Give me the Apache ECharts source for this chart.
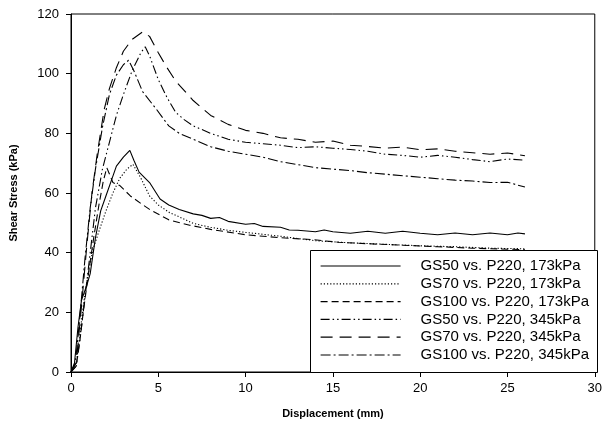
<!DOCTYPE html>
<html>
<head>
<meta charset="utf-8">
<script src="https://cdn.jsdelivr.net/npm/echarts@6/dist/echarts.min.js"></script>
<style>
	html, body { margin: 0; padding: 0; background: #fff; }
	#main { width: 605px; height: 430px; }
</style>
</head>
<body>
<div id="main"></div>
<script>
// series names (legend order)
var seriesNames = [
	'GS50 vs. P220, 173kPa',
	'GS70 vs. P220, 173kPa',
	'GS100 vs. P220, 173kPa',
	'GS50 vs. P220, 345kPa',
	'GS70 vs. P220, 345kPa',
	'GS100 vs. P220, 345kPa'
];

// [displacement mm, shear stress kPa]
var gs50_173 = [[0,0],[0.2,3],[0.4,15],[0.6,24],[0.9,29],[1.1,33],[1.4,45],[1.7,54],[2,59],[2.3,64],[2.6,69],[3,72],[3.37,74.3],
	[3.6,71],[3.9,67],[4.5,63.5],[5.1,58],[5.6,56],[6.2,54.5],[7,53],[7.5,52.5],[8,51.5],[8.5,51.8],[9,50.5],[10,49.5],[10.5,49.8],
	[11,48.8],[12,48.5],[12.5,47.6],[13,47.5],[14,47],[14.5,47.6],[15,47],[16,46.5],[17,47.2],[18,46.5],[19,47.2],[20,46.5],
	[21,46],[22,46.6],[23,46],[24,46.6],[25,46],[25.6,46.6],[26,46.3]];
var gs70_173 = [[0,0],[0.3,3],[0.5,12],[0.7,22],[0.9,30],[1.25,41],[1.65,48],[2,54],[2.4,60],[2.8,65],[3.2,68],[3.55,69.6],
	[4,65],[4.5,59],[5,56],[5.65,53.4],[6.2,52],[7,49.8],[8,48.5],[9,47.5],[10,46.8],[12,45.5],[14,44],[16,43.3],[18,42.8],
	[20,42.3],[22,42],[24,41.5],[26,41.3]];
var gs100_173 = [[0,0],[0.3,2],[0.5,10],[0.7,20],[1,33],[1.3,45],[1.6,56],[1.85,64],[2.05,68.5],[2.4,63.5],[2.8,62.5],
	[3.4,59],[4,56.5],[4.5,54.5],[5.6,51],[6.8,49.2],[8,47.8],[10,46],[12,45],[13.8,44.4],[15.3,43.5],[17,43],[19,42.5],
	[21,42],[23,41.5],[26,41]];
var gs50_345 = [[0,0],[0.3,2],[0.6,15],[1,35],[1.4,55],[1.8,68],[2.2,77],[2.6,86],[3,93],[3.5,101],[4,107],[4.25,109],
	[4.5,106],[5,98],[5.5,92],[6,87],[6.5,84.5],[7,82.5],[8,80],[9,78],[10,77],[11,76.5],[12,76],[13,75.2],[14,75.5],
	[15,75],[16,74.6],[17,74],[18,73],[19,72.6],[20,72],[21,72.6],[22,72],[23,71.2],[24,70.5],[25,71.4],[26,71]];
var gs70_345 = [[0,0],[0.3,3],[0.6,22],[0.9,42],[1.2,60],[1.5,73],[1.9,88],[2.2,95],[2.6,102],[3,107.5],[3.5,111.5],
	[4.1,114],[4.5,112.5],[5,107],[5.5,102],[6,97.5],[7,91],[8,86],[9,83],[10,81],[11,80],[12,78.5],[13,78],[14,77],
	[15,77.4],[16,76],[17,75.6],[18,75],[19,75.4],[20,74.5],[21,74.8],[22,74],[23,73.5],[24,73],[25,73.4],[26,72.5]];
var gs100_345 = [[0,0],[0.25,3],[0.5,18],[0.8,38],[1.1,55],[1.4,68],[1.8,82],[2.2,93],[2.6,99.5],[3,103],[3.3,104.5],
	[3.6,101],[4.1,94],[4.9,88],[5.6,82.5],[6.2,80],[7,78],[8,75.5],[9,74],[10,73],[11,72],[12,70.5],[13,69.5],[14,68.5],
	[15,68],[16,67.5],[17,66.8],[18,66.3],[19,65.8],[20,65.3],[21,64.8],[22,64.3],[23,64],[24,63.5],[25,63.6],[26,62]];

var seriesData = [gs50_173, gs70_173, gs100_173, gs50_345, gs70_345, gs100_345];
// dash patterns: solid, dotted, dashed, dash-dot-dot, long dash, dash-dot
var dashTypes = ['solid', [1.2, 2], [7, 4], [9, 3, 1.5, 3, 1.5, 3], [12, 7], [10, 3, 2, 3]];

var xTicks = [0, 5, 10, 15, 20, 25, 30];
var yTicks = [0, 20, 40, 60, 80, 100, 120];

function initChart() {
	var myChart = echarts.init(document.getElementById('main'));
	var series = [];
	for (var i = 0; i < seriesData.length; i++) {
		series.push({
			name: seriesNames[i],
			type: 'line',
			data: seriesData[i],
			symbol: 'none',
			animation: false,
			itemStyle: { color: '#000' },
			lineStyle: { color: '#000', width: 1.1, type: dashTypes[i] }
		});
	}
	var option = {
		backgroundColor: '#fff',
		animation: false,
		textStyle: { fontFamily: 'Liberation Sans, Arial, sans-serif', color: '#000' },
		grid: { left: 71, right: 8, top: 14, bottom: 58, show: true, borderColor: '#000', borderWidth: 1 },
		xAxis: {
			type: 'value', min: xTicks[0], max: xTicks[xTicks.length - 1], interval: 5,
			name: 'Displacement (mm)', nameLocation: 'middle', nameGap: 36,
			nameTextStyle: { fontSize: 11, fontWeight: 'bold', color: '#000' },
			axisLine: { lineStyle: { color: '#000', width: 1 } },
			axisTick: { inside: false, length: 5, lineStyle: { color: '#000' } },
			axisLabel: { fontSize: 13, color: '#000', margin: 10 },
			splitLine: { show: false }
		},
		yAxis: {
			type: 'value', min: yTicks[0], max: yTicks[yTicks.length - 1], interval: 20,
			name: 'Shear Stress (kPa)', nameLocation: 'middle', nameGap: 52, nameRotate: 90,
			nameTextStyle: { fontSize: 11, fontWeight: 'bold', color: '#000' },
			axisLine: { show: true, lineStyle: { color: '#000', width: 1 } },
			axisTick: { show: true, inside: false, length: 5, lineStyle: { color: '#000' } },
			axisLabel: { fontSize: 13, color: '#000', margin: 12 },
			splitLine: { show: false }
		},
		legend: {
			orient: 'vertical', left: 310, top: 250,
			padding: [8, 10, 8, 10],
			itemWidth: 80, itemHeight: 14, itemGap: 1.8,
			itemStyle: { color: 'rgba(0,0,0,0)', borderWidth: 0 },
			lineStyle: { color: '#000', width: 1.2, opacity: 1 },
			textStyle: { fontSize: 15, lineHeight: 16, color: '#000', padding: [0, 0, 0, 15] },
			data: seriesNames,
			z: 10
		},
		graphic: [{
			type: 'rect', z: 5,
			shape: { x: 310.5, y: 250.5, width: 287, height: 122 },
			style: { fill: '#fff', stroke: '#000', lineWidth: 1 }
		}],
		series: series
	};
	myChart.setOption(option);
}
initChart();
</script>
</body>
</html>
